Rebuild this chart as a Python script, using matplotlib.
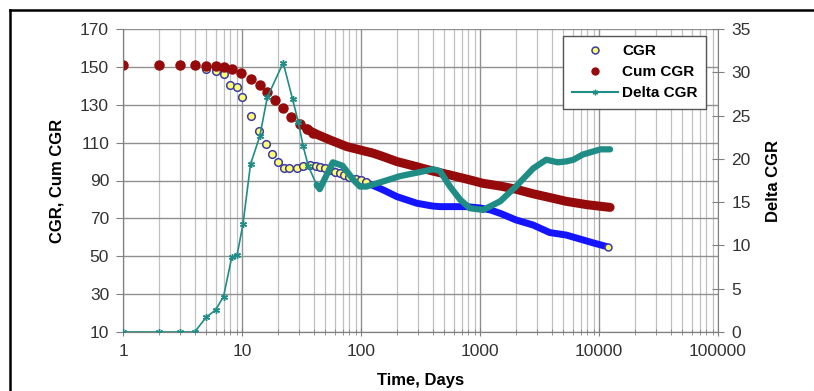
import matplotlib
matplotlib.use("Agg")
import matplotlib.pyplot as plt
from matplotlib.lines import Line2D
from matplotlib.ticker import LogLocator, FixedLocator, NullFormatter

plt.rcParams['font.family'] = ['Liberation Sans', 'DejaVu Sans']

# ---- data ----
# CGR: sparse early markers
cgr_t = [1, 2, 3, 4, 5, 6, 7, 8, 9, 10, 12, 14, 16, 18, 20, 22.5, 25, 28.8, 32.5,
         37, 42, 45, 50, 55, 60, 66, 72, 80, 90, 100, 110]
cgr_v = [151, 151, 151, 151, 149, 148, 146, 140.4, 139.3, 134.3, 124, 116.3, 109.3,
         103.8, 100, 96.8, 96.4, 96.8, 97.7, 98.2, 97.7, 97.3, 96.5, 95.5, 94.6,
         93.9, 92.8, 91.8, 90.8, 90.2, 89.2]
# CGR: dense late portion (overlapping markers -> solid band)
cgr_late_t = [40, 50, 66, 81, 100, 111, 154, 200, 294, 400, 460, 600, 774, 1000,
              1230, 1500, 2000, 2790, 3860, 5300, 7000, 9000, 11800]
cgr_late_v = [98, 96.5, 93.9, 91.2, 90.2, 88.9, 85, 81.5, 78, 76.5, 76.2, 76.2,
              76.2, 75.5, 74.4, 72.5, 69.2, 66.5, 62.5, 61.2, 59, 57, 55]

# Cum CGR: sparse early markers
cum_t = [1, 2, 3, 4, 5, 6, 7, 8.2, 9.9, 11.8, 14.1, 16.3, 18.9, 22.2, 26, 30.6, 35, 39.6]
cum_v = [151, 151, 151, 151, 150.6, 150.3, 150, 148.7, 146.6, 143.4, 140.4, 136.9,
         132.5, 128.1, 123.7, 119.8, 117.3, 115.2]
# Cum CGR: dense late portion
cum_late_t = [35, 39.6, 55, 76, 100, 127, 154, 200, 294, 400, 560, 800, 1060, 1500,
              2000, 2790, 3860, 5300, 8000, 12400]
cum_late_v = [117.3, 115.2, 111.4, 107.9, 106, 104.4, 102.6, 100, 97.3, 95, 92.9,
              90.5, 88.5, 87, 85.4, 83, 81, 79, 77.2, 75.8]

# Delta CGR: sparse early markers (right axis)
dlt_t = [1, 2, 3, 4, 5, 6, 7, 8.2, 9.1, 10.2, 11.8, 14.1, 16.3, 22.2, 26.6, 29.8,
         32.6, 36, 42.4]
dlt_v = [0, 0, 0, 0, 1.7, 2.55, 4.1, 8.65, 8.9, 12.5, 19.4, 22.6, 27.1, 31.1, 26.9,
         24.2, 21.5, 19.2, 17.0]
# Delta CGR: dense late portion
dlt_late_t = [42.4, 45, 50, 58, 70, 86, 98, 111, 154, 212, 294, 405, 460, 560, 680,
              820, 1060, 1480, 2000, 2800, 3600, 4500, 5300, 6100, 7300, 10300, 12400]
dlt_late_v = [17.0, 16.5, 17.8, 19.6, 19.2, 17.6, 16.8, 16.8, 17.4, 18, 18.4, 18.8,
              18.6, 16.8, 15.3, 14.3, 14.1, 15.1, 16.8, 18.9, 19.9, 19.6, 19.7, 19.9,
              20.5, 21.1, 21.1]

left_ticks = [10, 30, 50, 70, 90, 110, 130, 150, 170]
right_ticks = [0, 5, 10, 15, 20, 25, 30, 35]
x_ticks = [1, 10, 100, 1000, 10000, 100000]
x_labels = ['1', '10', '100', '1000', '10000', '100000']

RED = '#950a0a'
BLUE = '#1414ff'
YEL = '#ffff70'
YEL_EDGE = '#3c3ca8'
TEAL = '#1f8c86'
AX = '#808080'

fig = plt.figure(figsize=(8.14, 3.91), dpi=100)
ax = fig.add_axes([123/814, 1-332/391, (718-123)/814, (332-29)/391])
ax2 = ax.twinx()

ax.set_xscale('log')
ax.set_xlim(1, 100000)
ax.set_ylim(10, 170)
ax2.set_ylim(0, 35)

# grid
ax.xaxis.set_major_locator(FixedLocator(x_ticks))
ax.xaxis.set_minor_locator(LogLocator(base=10, subs=range(2, 10), numticks=20))
ax.xaxis.set_minor_formatter(NullFormatter())
ax.set_xticks(x_ticks)
ax.set_xticklabels(x_labels)
ax.set_yticks(left_ticks)
ax2.set_yticks(right_ticks)
ax.grid(True, which='major', axis='both', color='#909090', lw=1.0)
ax.grid(True, which='minor', axis='x', color='#c0c0c0', lw=0.9)
ax.set_axisbelow(True)

for sp in ['left', 'bottom', 'right', 'top']:
    ax.spines[sp].set_color(AX)
    ax2.spines[sp].set_color(AX)
ax.spines['top'].set_visible(False)
ax2.spines['top'].set_visible(False)
ax.spines['right'].set_visible(False)

ax.tick_params(axis='y', direction='out', length=5, color=AX, labelsize=12.5, pad=5,
               labelcolor='#333333')
ax.tick_params(axis='x', which='major', direction='inout', length=6, color=AX,
               labelsize=12.5, pad=6, labelcolor='#333333')
ax.tick_params(axis='x', which='minor', direction='inout', length=4, color=AX)
ax2.tick_params(axis='y', direction='inout', length=9, color=AX, labelsize=12.5,
                pad=5, labelcolor='#333333')

# data
ax.plot(cgr_late_t, cgr_late_v, color=BLUE, lw=5, solid_capstyle='round', zorder=3)
ax.plot(cgr_t, cgr_v, ls='none', marker='o', ms=5.5, mfc=YEL, mec=YEL_EDGE, mew=1.1,
        zorder=4)
ax.plot(cgr_late_t[-1:], cgr_late_v[-1:], ls='none', marker='o', ms=5, mfc=YEL,
        mec=YEL_EDGE, mew=1.1, zorder=4)

ax.plot(cum_late_t, cum_late_v, color=RED, lw=6.5, solid_capstyle='round', zorder=5)
ax.plot(cum_t, cum_v, ls='none', marker='o', ms=6.5, mfc=RED, mec=RED, zorder=6)

ax2.plot(dlt_late_t, dlt_late_v, color=TEAL, lw=4.5, solid_capstyle='round', zorder=3)
ax2.plot(dlt_t, dlt_v, color=TEAL, lw=1.2, marker=(6, 2, 0), ms=5, mec=TEAL, mew=1.0,
         zorder=4)

# legend
handles = [
    Line2D([], [], ls='none', marker='o', ms=5, mfc=YEL, mec=YEL_EDGE, mew=1.1),
    Line2D([], [], ls='none', marker='o', ms=5, mfc=RED, mec=RED),
    Line2D([], [], color=TEAL, lw=1.5, marker=(6, 2, 0), ms=4, mec=TEAL),
]
leg = ax2.legend(handles, ['CGR', 'Cum CGR', 'Delta CGR'], loc='upper right',
                 bbox_to_anchor=(0.98, 0.977), borderaxespad=0, fancybox=False,
                 framealpha=1, edgecolor='#555555',
                 prop={'weight': 'bold', 'size': 11},
                 handlelength=3.0, handletextpad=0.3, borderpad=0.55,
                 labelspacing=0.45)
leg.get_frame().set_linewidth(1.0)

# axis titles
fig.text((123+718)/2/814, 1-380/391, 'Time, Days', ha='center', va='center',
         fontsize=12, fontweight='bold')
fig.text(57/814, 1-181/391, 'CGR, Cum CGR', ha='center', va='center',
         rotation=90, fontsize=12, fontweight='bold')
fig.text(774/814, 1-181/391, 'Delta CGR', ha='center', va='center',
         rotation=90, fontsize=12, fontweight='bold')

# outer frame (top and left edges)
fig.add_artist(Line2D([9.5/814, 9.5/814], [0, 1-9.5/391], transform=fig.transFigure,
                      color='black', lw=1.8))
fig.add_artist(Line2D([9.5/814, 1], [1-9.5/391, 1-9.5/391], transform=fig.transFigure,
                      color='black', lw=1.8))

fig.savefig('out.png', dpi=100)
